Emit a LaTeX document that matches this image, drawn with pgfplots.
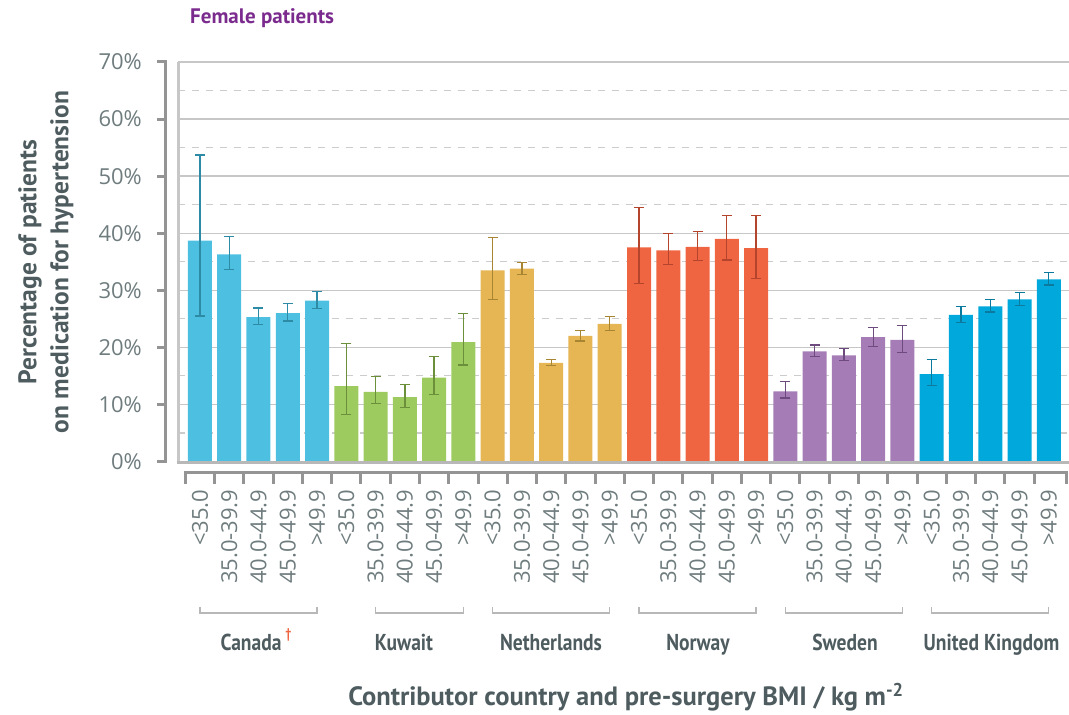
\documentclass[border=0pt]{standalone}
\usepackage{pgfplots}
\usepackage{pgfplotstable}
\pgfplotsset{compat=1.18}
\usepackage{fontspec}
\setmainfont{PT Sans}
\newfontfamily\condfont[FakeStretch=0.85]{PT Sans}
\newfontfamily\tickfont{Open Sans}
\definecolor{tickgray}{HTML}{6F7C7E}
\definecolor{labgray}{HTML}{4E5C60}
\definecolor{titlepurple}{HTML}{7B2A8E}
\definecolor{cCan}{HTML}{4DC0E2}\definecolor{eCan}{HTML}{2E8BA6}
\definecolor{cKuw}{HTML}{9DCB5F}\definecolor{eKuw}{HTML}{6B8F3A}
\definecolor{cNet}{HTML}{E5B653}\definecolor{eNet}{HTML}{A88533}
\definecolor{cNor}{HTML}{EF6542}\definecolor{eNor}{HTML}{B5442C}
\definecolor{cSwe}{HTML}{A57CB5}\definecolor{eSwe}{HTML}{6E4B7E}
\definecolor{cUK}{HTML}{00A8DB}\definecolor{eUK}{HTML}{0C7A9E}

\pgfplotstableread{
x y hi lo
0 38.7 53.7 25.5
1 36.3 39.4 33.6
2 25.3 26.9 24.0
3 26.0 27.7 24.6
4 28.2 29.8 26.8
}\canada
\pgfplotstableread{
x y hi lo
5 13.2 20.7 8.2
6 12.2 14.9 10.2
7 11.3 13.5 9.5
8 14.7 18.4 11.7
9 20.9 25.9 16.9
}\kuwait
\pgfplotstableread{
x y hi lo
10 33.5 39.3 28.4
11 33.8 34.9 32.8
12 17.3 17.9 16.8
13 22.0 23.0 21.1
14 24.1 25.4 22.9
}\netherlands
\pgfplotstableread{
x y hi lo
15 37.5 44.5 31.2
16 37.0 39.9 34.5
17 37.6 40.3 35.2
18 39.0 43.1 35.3
19 37.4 43.1 32.1
}\norway
\pgfplotstableread{
x y hi lo
20 12.3 14.0 11.1
21 19.3 20.4 18.4
22 18.6 19.8 17.7
23 21.8 23.5 20.2
24 21.3 23.8 19.1
}\sweden
\pgfplotstableread{
x y hi lo
25 15.3 17.9 13.3
26 25.7 27.2 24.4
27 27.2 28.4 26.2
28 28.4 29.6 27.3
29 31.9 33.1 30.9
}\uk

\pgfplotsset{
  cbar/.style 2 args={fill=#1, draw=none,
    error bars/.cd, y dir=both, y explicit,
    error bar style={color=#2, line width=1.3pt},
    error mark options={rotate=90, color=#2, mark size=5pt, line width=1.3pt}},
}

\begin{document}
\begin{tikzpicture}[x=1pt,y=1pt]
\path[use as bounding box] (0,0) rectangle (1069,715);
\begin{axis}[
  at={(178pt,253.5pt)}, anchor=south west,
  scale only axis, width=891pt, height=399.5pt,
  xmin=-0.75, xmax=29.69, ymin=0, ymax=70,
  ybar, bar width=24pt, bar shift=0pt,
  axis line style={draw=none},
  xtick={0,...,29},
  xticklabels={<35.0,35.0-39.9,40.0-44.9,45.0-49.9,>49.9,
               <35.0,35.0-39.9,40.0-44.9,45.0-49.9,>49.9,
               <35.0,35.0-39.9,40.0-44.9,45.0-49.9,>49.9,
               <35.0,35.0-39.9,40.0-44.9,45.0-49.9,>49.9,
               <35.0,35.0-39.9,40.0-44.9,45.0-49.9,>49.9,
               <35.0,35.0-39.9,40.0-44.9,45.0-49.9,>49.9},
  xticklabel style={rotate=90, anchor=east, inner sep=0pt, font=\tickfont\fontsize{22}{26}\selectfont, text=tickgray},
  xticklabel shift=28pt,
  ytick={0,10,...,70},
  yticklabels={0\%,10\%,20\%,30\%,40\%,50\%,60\%,70\%},
  yticklabel style={anchor=east, inner sep=0pt, font=\tickfont\fontsize{22}{26}\selectfont, text=tickgray},
  yticklabel shift=36pt,
  minor ytick={5,15,...,65},
  major tick length=0pt, minor tick length=0pt,
  ymajorgrids, yminorgrids,
  major grid style={color=black!22, line width=1.3pt},
  minor grid style={color=black!20, line width=1.2pt, dash pattern=on 7pt off 7pt},
  clip=false,
]
\addplot[cbar={cCan}{eCan}] table[x=x, y=y, y error plus expr=\thisrow{hi}-\thisrow{y}, y error minus expr=\thisrow{y}-\thisrow{lo}] {\canada};
\addplot[cbar={cKuw}{eKuw}] table[x=x, y=y, y error plus expr=\thisrow{hi}-\thisrow{y}, y error minus expr=\thisrow{y}-\thisrow{lo}] {\kuwait};
\addplot[cbar={cNet}{eNet}] table[x=x, y=y, y error plus expr=\thisrow{hi}-\thisrow{y}, y error minus expr=\thisrow{y}-\thisrow{lo}] {\netherlands};
\addplot[cbar={cNor}{eNor}] table[x=x, y=y, y error plus expr=\thisrow{hi}-\thisrow{y}, y error minus expr=\thisrow{y}-\thisrow{lo}] {\norway};
\addplot[cbar={cSwe}{eSwe}] table[x=x, y=y, y error plus expr=\thisrow{hi}-\thisrow{y}, y error minus expr=\thisrow{y}-\thisrow{lo}] {\sweden};
\addplot[cbar={cUK}{eUK}] table[x=x, y=y, y error plus expr=\thisrow{hi}-\thisrow{y}, y error minus expr=\thisrow{y}-\thisrow{lo}] {\uk};
\end{axis}
% frame
\draw[color=black!22, line width=3pt] (178,653) -- (178,252);
\draw[color=black!28, line width=3pt] (176.5,252.5) -- (1069,252.5);
% y bracket
\draw[color=black!42, line width=3pt] (157,653) -- (165,653) -- (165,253) -- (157,253);
\foreach \k in {1,...,6} \draw[color=black!42, line width=3pt] (157,{253+\k*57.07}) -- (165,{253+\k*57.07});
% x bracket
\draw[color=black!42, line width=3pt] (185.3,231) -- ++(0,11) -- (1066.4,242) -- ++(0,-11);
\foreach \k in {1,...,29} \draw[color=black!42, line width=3pt] ({185.32+\k*29.27},242) -- ++(0,-11);
% group brackets
\foreach \a/\b in {199.96/317.04, 375.58/463.39, 492.66/609.74, 639.01/756.09, 785.36/902.44, 931.71/1048.79}
  \draw[color=black!28, line width=1.3pt] (\a,108) -- (\a,102) -- (\b,102) -- (\b,108);
% group labels
\begin{scope}[every node/.style={font=\condfont\bfseries\fontsize{23}{26}\selectfont, text=labgray, inner sep=0pt, anchor=base}]
\node at (256,64) {Canada\,\raisebox{0.55em}{\textcolor{cNor}{\fontsize{14}{15}\selectfont †}}};
\node at (404,64) {Kuwait};
\node at (551,64) {Netherlands};
\node at (698,64) {Norway};
\node at (845,64) {Sweden};
\node at (991.5,64) {United Kingdom};
\end{scope}
% axis titles
\node[font=\bfseries\fontsize{26.5}{30}\selectfont, text=labgray] at (626,18) {Contributor country and pre-surgery BMI / kg m\textsuperscript{-2}};
\node[rotate=90, align=center, font=\bfseries\fontsize{25.5}{32}\selectfont, text=labgray] at (46,453) {Percentage of patients\\on medication for hypertension};
\node[anchor=west, font=\bfseries\fontsize{21}{24}\selectfont, text=titlepurple, inner sep=0pt] at (190,697) {Female patients};
\end{tikzpicture}
\end{document}
